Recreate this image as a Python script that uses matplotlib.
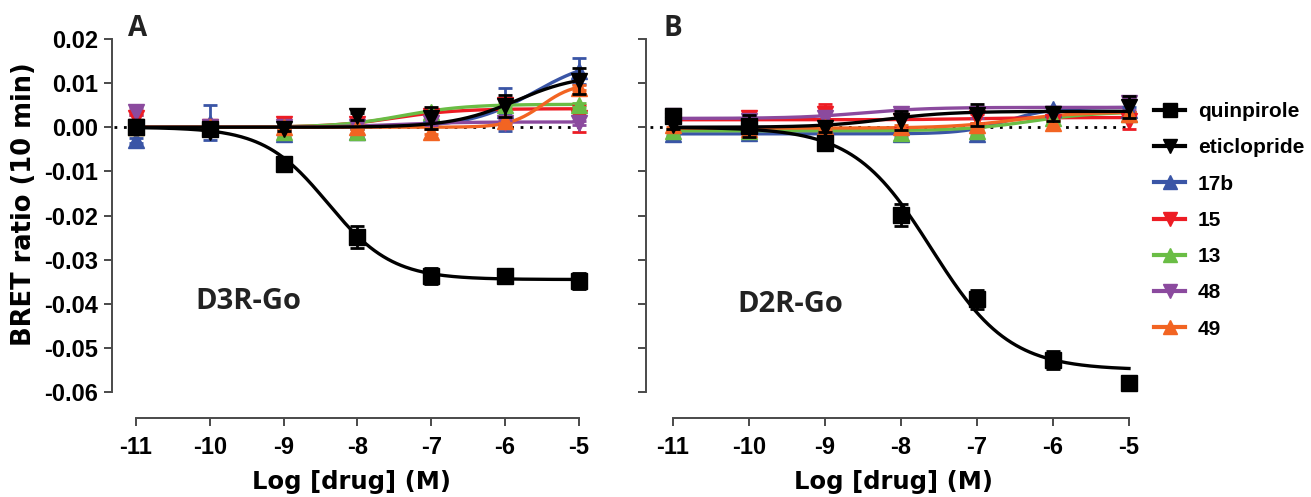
"""
BRET ratio concentration-response curves, D3R-Go and D2R-Go
"""

import numpy as np
import matplotlib
matplotlib.use('Agg')
import matplotlib.pyplot as plt
from matplotlib.lines import Line2D

# log concentrations
log_conc = [-11, -10, -9, -8, -7, -6, -5]

series_names = ['quinpirole', 'eticlopride', '17b', '15', '13', '48', '49']
series_colors = ['black', 'black', '#3a55a6', '#ed1c24', '#6abd45', '#8b4a9e', '#f26422']
series_markers = ['s', 'v', '^', 'v', '^', 'v', '^']

# Panel A: D3R-Go (mean, sem)
a_quinpirole = [0.0, -0.0005, -0.0083, -0.0248, -0.0338, -0.0338, -0.0348]
a_quinpirole_err = [0.0010, 0.0012, 0.0008, 0.0025, 0.0018, 0.0010, 0.0018]
a_eticlopride = [0.0, -0.0010, -0.0003, 0.0025, 0.0022, 0.0048, 0.0105]
a_eticlopride_err = [0.0005, 0.0008, 0.0005, 0.0008, 0.0025, 0.0025, 0.0030]
a_17b = [-0.0030, 0.0010, -0.0015, -0.0010, 0.0030, 0.0040, 0.0128]
a_17b_err = [0.0005, 0.0040, 0.0005, 0.0008, 0.0008, 0.0048, 0.0030]
a_15 = [0.0020, 0.0, 0.0008, 0.0008, 0.0025, 0.0050, 0.0020]
a_15_err = [0.0008, 0.0008, 0.0008, 0.0008, 0.0008, 0.0015, 0.0030]
a_13 = [0.0, 0.0, -0.0010, -0.0010, 0.0035, 0.0050, 0.0050]
a_13_err = [0.0005, 0.0005, 0.0005, 0.0005, 0.0005, 0.0005, 0.0005]
a_48 = [0.0035, 0.0, 0.0, 0.0, 0.0010, 0.0010, 0.0010]
a_48_err = [0.0008, 0.0005, 0.0005, 0.0005, 0.0005, 0.0005, 0.0005]
a_49 = [0.0, 0.0, 0.0, 0.0, -0.0010, 0.0015, 0.0090]
a_49_err = [0.0005, 0.0005, 0.0005, 0.0005, 0.0005, 0.0005, 0.0005]

# Panel A fit parameters: start, end, logEC50, slope
a_fit_quinpirole = [0.0, -0.0345, -8.4, 1.0]
a_fit_eticlopride = [0.0, 0.0121, -5.85, 1.0]
a_fit_17b = [0.0, 0.0160, -5.6, 1.0]
a_fit_15 = [0.0, 0.0042, -7.5, 1.0]
a_fit_13 = [0.0, 0.0052, -7.4, 1.0]
a_fit_48 = [0.0, 0.0012, -7.5, 1.0]
a_fit_49 = [0.0, 0.0100, -5.5, 2.0]

# Panel B: D2R-Go (mean, sem)
b_quinpirole = [0.0025, 0.0002, -0.0035, -0.0198, -0.0390, -0.0527, -0.0580]
b_quinpirole_err = [0.0015, 0.0025, 0.0012, 0.0025, 0.0022, 0.0020, 0.0015]
b_eticlopride = [0.0005, 0.0, -0.0002, 0.0015, 0.0028, 0.0030, 0.0045]
b_eticlopride_err = [0.0008, 0.0008, 0.0008, 0.0022, 0.0025, 0.0015, 0.0025]
b_17b = [-0.0015, -0.0013, -0.0013, -0.0015, -0.0015, 0.0042, 0.0040]
b_17b_err = [0.0005, 0.0005, 0.0005, 0.0005, 0.0005, 0.0005, 0.0005]
b_15 = [0.0015, 0.0020, 0.0030, 0.0015, 0.0020, 0.0012, 0.0015]
b_15_err = [0.0005, 0.0012, 0.0022, 0.0015, 0.0010, 0.0008, 0.0020]
b_13 = [-0.0008, -0.0008, -0.0008, -0.0012, -0.0008, 0.0020, 0.0030]
b_13_err = [0.0004, 0.0004, 0.0004, 0.0004, 0.0004, 0.0004, 0.0004]
b_48 = [0.0025, 0.0015, 0.0020, 0.0030, 0.0030, 0.0030, 0.0055]
b_48_err = [0.0010, 0.0008, 0.0008, 0.0010, 0.0008, 0.0008, 0.0015]
b_49 = [0.0005, -0.0005, 0.0, 0.0, 0.0005, 0.0010, 0.0030]
b_49_err = [0.0004, 0.0004, 0.0004, 0.0004, 0.0004, 0.0004, 0.0004]

b_fit_quinpirole = [0.0, -0.0550, -7.6, 0.85]
b_fit_eticlopride = [0.0, 0.0036, -8.2, 1.0]
b_fit_17b = [-0.0015, 0.0045, -6.6, 1.5]
b_fit_15 = [0.0017, 0.0022, -7.0, 1.0]
b_fit_13 = [-0.0008, 0.0035, -6.3, 1.0]
b_fit_48 = [0.0020, 0.0045, -8.5, 1.0]
b_fit_49 = [-0.0002, 0.0035, -6.5, 1.0]

y_ticks = [0.02, 0.01, 0.00, -0.01, -0.02, -0.03, -0.04, -0.05, -0.06]

TICK_FONT = 'Liberation Sans'
TITLE_FONT = 'DejaVu Sans'
LABEL_FONT = 'Open Sans'
SPINE_COLOR = '#4a4a4a'


def logistic(x, start, end, logec50, slope):
    """Four parameter logistic curve (Prism style fit)"""
    return start + (end - start) / (1 + 10 ** ((logec50 - x) * slope))


def draw_panel(ax, values, errors, fits, show_ylabels):
    x_fit = np.linspace(log_conc[0], log_conc[-1], 300)
    ax.plot([-11.3, log_conc[-1]], [0, 0], color='black', lw=2,
            linestyle=(0, (1, 2.4)), zorder=1)

    # colored compounds first, black reference ligands on top
    order = [2, 3, 4, 5, 6, 1, 0]
    for i in order:
        color = series_colors[i]
        z = 3 if i > 1 else 5
        ax.plot(x_fit, logistic(x_fit, *fits[i]), color=color, lw=2.4, zorder=z)
        ax.errorbar(log_conc, values[i], yerr=errors[i], fmt=series_markers[i],
                    color=color, ms=12, capsize=5, elinewidth=2, capthick=2,
                    zorder=z + 1)

    ax.set_xlim(-11.325, -4.85)
    ax.set_ylim(-0.06588, 0.0243)
    ax.set_xticks(log_conc)
    ax.set_xticklabels([str(v) for v in log_conc])
    ax.set_yticks(y_ticks)
    if show_ylabels:
        ax.set_yticklabels([f'{v:.2f}' for v in y_ticks])
    else:
        ax.set_yticklabels([])

    for side in ['top', 'right']:
        ax.spines[side].set_visible(False)
    for side in ['left', 'bottom']:
        ax.spines[side].set_color(SPINE_COLOR)
        ax.spines[side].set_linewidth(1.4)
    ax.spines['left'].set_bounds(-0.06, 0.02)
    ax.spines['bottom'].set_bounds(-11, -5)

    ax.tick_params(axis='both', direction='out', length=6, width=1.4,
                   color=SPINE_COLOR)
    ax.tick_params(axis='x', pad=7)
    ax.tick_params(axis='y', pad=4)
    for lab in ax.get_xticklabels() + ax.get_yticklabels():
        lab.set_fontfamily(TICK_FONT)
        lab.set_fontweight('bold')
        lab.set_fontsize(17)

    ax.set_xlabel('Log [drug] (M)', fontfamily=TITLE_FONT, fontweight='bold',
                  fontsize=17.5, labelpad=8)


fig = plt.figure(figsize=(13.11, 4.97), dpi=100)
ax_a = fig.add_axes([112 / 1311, 79 / 497, 478 / 1311, 398 / 497])
ax_b = fig.add_axes([646 / 1311, 79 / 497, 494 / 1311, 398 / 497])

a_values = [a_quinpirole, a_eticlopride, a_17b, a_15, a_13, a_48, a_49]
a_errors = [a_quinpirole_err, a_eticlopride_err, a_17b_err, a_15_err, a_13_err, a_48_err, a_49_err]
a_fits = [a_fit_quinpirole, a_fit_eticlopride, a_fit_17b, a_fit_15, a_fit_13, a_fit_48, a_fit_49]

b_values = [b_quinpirole, b_eticlopride, b_17b, b_15, b_13, b_48, b_49]
b_errors = [b_quinpirole_err, b_eticlopride_err, b_17b_err, b_15_err, b_13_err, b_48_err, b_49_err]
b_fits = [b_fit_quinpirole, b_fit_eticlopride, b_fit_17b, b_fit_15, b_fit_13, b_fit_48, b_fit_49]

draw_panel(ax_a, a_values, a_errors, a_fits, True)
draw_panel(ax_b, b_values, b_errors, b_fits, False)
# right panel has its own x scale
ax_b.set_xlim(-11.355, -4.855)

ax_a.text(-9.48, -0.0395, 'D3R-Go', fontfamily=LABEL_FONT, fontweight='bold',
          fontsize=21, color='#222222', ha='center', va='center')
ax_b.text(-9.46, -0.0401, 'D2R-Go', fontfamily=LABEL_FONT, fontweight='bold',
          fontsize=21, color='#222222', ha='center', va='center')

fig.text(138 / 1311, 1 - 28 / 497, 'A', fontfamily=LABEL_FONT, fontweight='bold',
         fontsize=20, color='#222222', ha='center', va='center')
fig.text(673 / 1311, 1 - 28 / 497, 'B', fontfamily=LABEL_FONT, fontweight='bold',
         fontsize=20, color='#222222', ha='center', va='center')

fig.text(24 / 1311, 1 - 204 / 497, 'BRET ratio (10 min)', rotation=90,
         fontfamily=TITLE_FONT, fontweight='bold', fontsize=18.5,
         ha='center', va='center')

handles = [Line2D([0], [0], color=c, lw=3, marker=m, ms=10)
           for c, m in zip(series_colors, series_markers)]
fig.legend(handles, series_names, loc='upper left',
           bbox_to_anchor=(1154 / 1311, 1 - 102 / 497), frameon=False,
           prop={'family': TICK_FONT, 'weight': 'bold', 'size': 15},
           handlelength=1.5, handletextpad=0.6, labelspacing=0.83,
           borderpad=0, borderaxespad=0)

plt.savefig('out.png', dpi=100)
plt.close()
